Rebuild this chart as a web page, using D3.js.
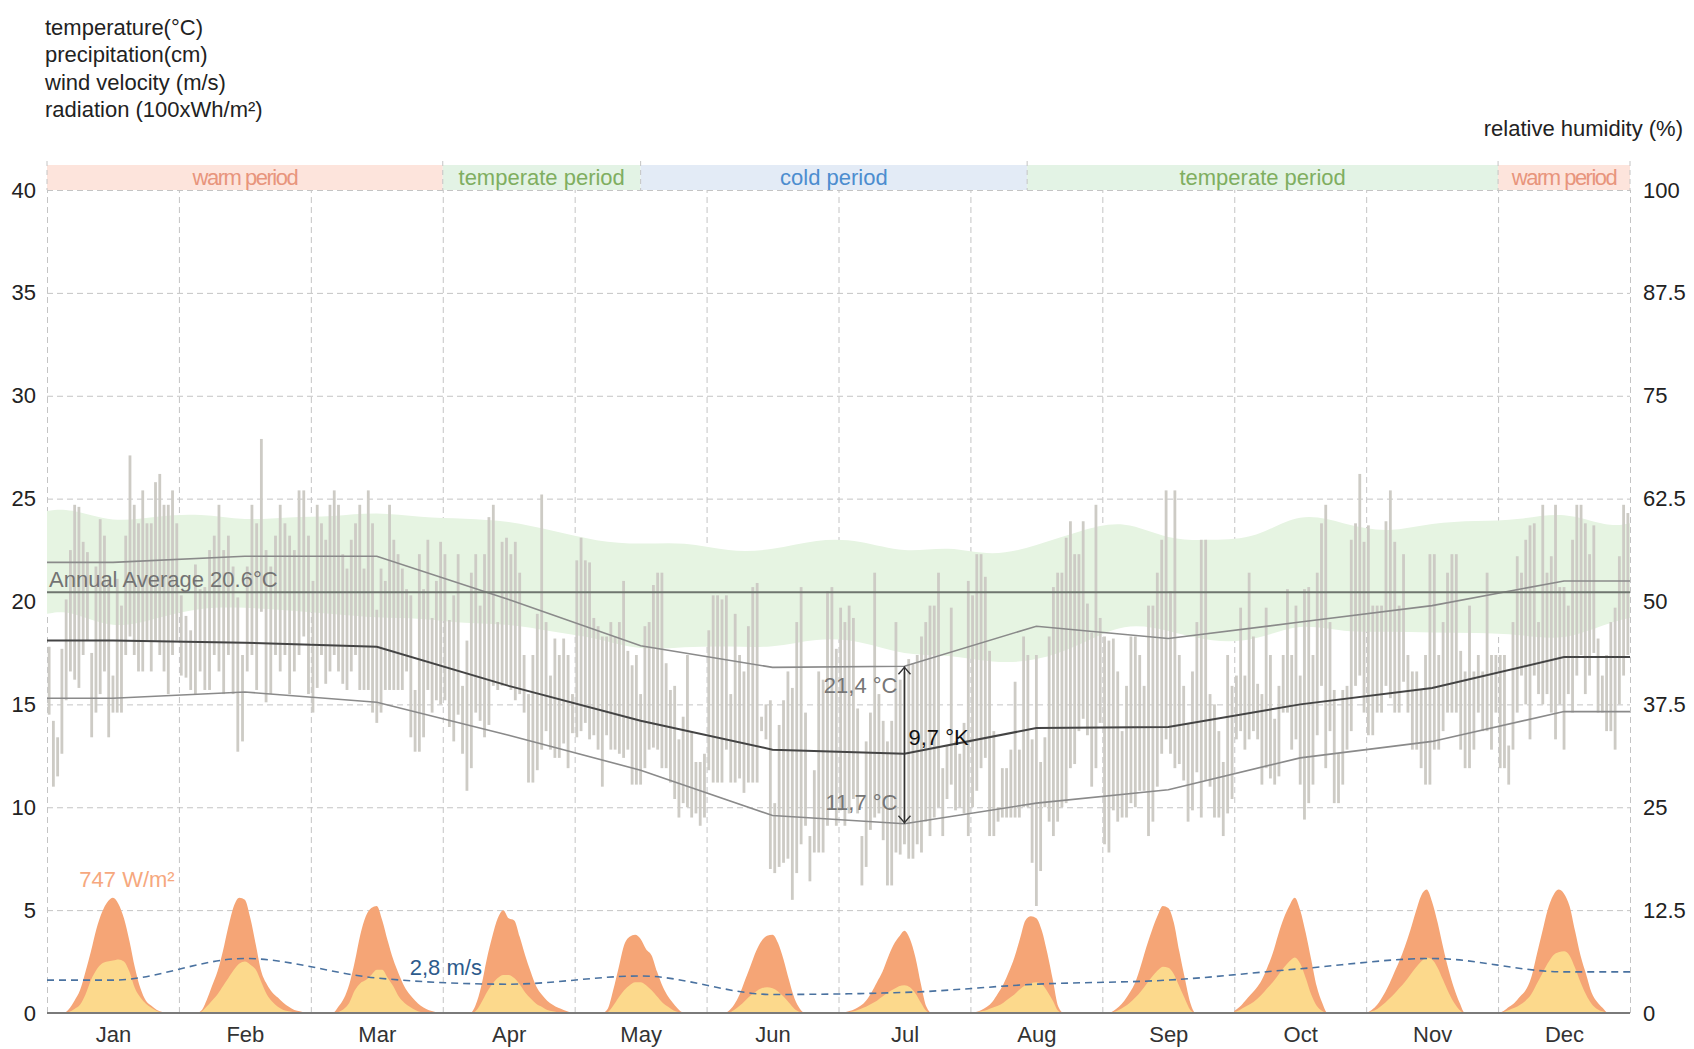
<!DOCTYPE html>
<html lang="en">
<head>
<meta charset="utf-8">
<title>Climate chart</title>
<script src="https://d3js.org/d3.v7.min.js"></script>
<style>
  body { margin: 0; background: #fff; }
  svg { font-family: "Liberation Sans", Arial, sans-serif; }
  .grid line { stroke: #c4c4c4; stroke-dasharray: 6,4; }
  .grid .domain { display: none; }
  .ticks .domain { display: none; }
  .ticks text { font-size: 22px; fill: #222; }
</style>
</head>
<body>
<svg id="chart" width="1694" height="1049"></svg>
<script>
// ---- data ----
const months = ["Jan", "Feb", "Mar", "Apr", "May", "Jun", "Jul", "Aug", "Sep", "Oct", "Nov", "Dec"];
const leftTicks = [0, 5, 10, 15, 20, 25, 30, 35, 40];
const rightTicks = [0, 12.5, 25, 37.5, 50, 62.5, 75, 87.5, 100];

const periodNames = ["warm period", "temperate period", "cold period", "temperate period", "warm period"];
const periodKind = ["warm", "temperate", "cold", "temperate", "warm"];
const periodStart = [0, 3, 4.5, 7.43, 11];
const periodEnd = [3, 4.5, 7.43, 11, 12];

const annualAvg = 20.6;

// monthly means (°C)
const meanMax = [21.9, 22.2, 22.2, 20.1, 17.85, 16.8, 16.85, 18.8, 18.2, 19.0, 19.8, 21.0];
const meanTemp = [18.1, 18.0, 17.8, 15.9, 14.2, 12.8, 12.6, 13.85, 13.9, 15.0, 15.8, 17.3];
const meanMin = [15.3, 15.6, 15.1, 13.5, 11.8, 9.6, 9.2, 10.2, 10.85, 12.4, 13.2, 14.65];

// monthly wind velocity (m/s)
const wind = [1.6, 2.65, 1.7, 1.4, 1.8, 0.9, 1.0, 1.4, 1.6, 2.15, 2.65, 2.0];

// daily max / min temperature (°C), one list per month
const dailyMax = [
  [17.8,14.2,13.4,17.7,20.1,22.5,24.7,24.6,22.9,22.4,17.5,21.7,24.0,23.2,21.1,16.4,21.1,19.8,23.2,27.1,24.7,23.8,25.4,23.8,23.8,25.8,26.2,24.7,24.7,25.4,23.8],
  [20.3,19.3,18.6,21.8,20.6,20.7,22.5,23.2,24.7,22.5,23.2,21.7,20.2,17.4,21.7,24.7,23.8,27.9,22.5,21.7,23.2,24.7,23.8,23.2,22.5,25.4,25.4,23.2],
  [21.0,24.7,23.8,23.0,24.7,25.4,24.7,22.3,21.6,23.0,23.8,24.7,21.6,25.4,23.8,19.6,21.6,21.0,24.7,23.0,22.3,21.6,20.6,20.3,15.7,22.3,20.6,23.0,19.2,21.0,22.9],
  [22.3,19.1,20.3,22.3,15.9,18.1,21.4,22.3,19.8,22.3,24.1,24.7,19.0,22.9,23.1,22.3,22.9,21.4,17.4,15.5,17.4,19.4,25.2,19.0,16.4,18.2,17.4,18.2,17.4,15.5],
  [22.0,23.1,22.0,21.9,19.2,18.8,18.3,18.3,19.0,18.3,19.0,21.0,17.6,16.9,17.4,15.5,18.8,19.0,20.8,21.4,21.4,17.0,15.7,15.9,13.3,14.4,17.4,13.7,12.2,12.2,12.6],
  [18.6,20.3,20.3,20.1,20.3,15.5,19.4,17.4,16.6,18.8,20.7,20.9,14.4,15.0,15.2,10.2,14.0,15.2,16.6,15.8,19.0,20.7,14.6,8.6,11.8,16.6,16.2,20.5,20.7,17.7],
  [19.7,19.0,19.8,19.2,14.8,8.6,13.2,14.6,21.4,15.5,14.2,13.2,14.2,19.0,16.2,16.6,17.2,17.0,17.4,18.3,19.0,19.8,19.8,21.4,11.9,13.0,19.7,13.2,12.6,14.1,21.0],
  [20.3,22.3,22.3,21.2,17.6,13.7,10.0,11.9,11.9,12.8,16.1,12.8,18.3,17.4,13.3,17.4,12.2,13.4,18.3,20.7,21.4,21.4,23.1,23.9,22.3,22.3,23.9,19.9,18.5,24.7,19.2],
  [18.3,18.1,18.2,16.6,13.7,15.9,18.3,18.3,17.4,15.9,19.8,19.8,21.4,23.0,25.4,20.5,25.4,17.4,15.9,14.1,16.6,19.0,23.0,23.0,15.5,15.0,13.7,12.2,17.4,15.9],
  [16.4,19.7,16.4,21.4,18.3,16.0,15.5,19.7,17.4,14.3,15.9,17.4,20.6,17.4,19.8,16.4,20.6,20.7,17.4,21.4,23.8,24.7,19.0,15.7,12.6,15.7,15.9,23.0,23.8,26.2,22.9],
  [23.7,19.8,19.8,19.8,23.9,25.4,22.9,19.8,22.3,17.4,16.6,16.6,15.7,17.4,22.3,22.3,17.4,19.0,21.4,22.3,22.3,17.6,16.6,19.8,16.6,17.4,16.6,21.4,17.4,17.4],
  [17.4,17.4,13.0,19.0,22.2,21.4,23.0,23.7,23.8,19.0,24.7,21.4,22.2,24.7,20.7,20.7,19.8,23.0,24.7,24.7,23.8,22.3,23.7,18.2,16.4,17.4,19.0,19.7,22.2,24.7,24.3]
];
const dailyMin = [
  [14.5,11.0,11.5,12.6,15.2,16.6,16.2,15.8,17.4,18.1,13.4,14.6,15.5,16.6,13.4,14.6,14.6,14.6,17.4,18.3,17.4,16.6,16.6,18.1,16.6,18.1,17.4,16.6,15.5,17.4,18.1],
  [16.4,16.3,15.7,15.5,16.6,15.7,15.7,17.4,16.6,15.5,17.4,15.5,12.7,13.2,16.6,17.4,15.7,19.5,15.1,15.5,17.4,16.6,17.4,15.5,16.6,17.4,18.3,15.5],
  [14.6,15.8,17.4,16.0,16.6,17.4,16.6,16.0,15.7,16.6,17.4,15.7,15.7,15.7,14.6,14.1,14.6,15.7,15.7,15.7,15.7,15.7,16.6,13.4,12.7,12.7,13.4,15.7,14.6,15.2,15.0],
  [15.2,13.9,13.2,14.5,12.6,10.8,11.9,14.6,14.2,13.4,14.0,15.9,15.7,15.9,15.9,15.7,15.2,15.5,14.6,11.2,11.2,11.8,12.8,13.7,12.8,12.4,12.4,13.1,11.9,13.6],
  [13.4,13.7,14.1,13.3,13.5,12.8,11.0,13.5,12.8,12.8,12.6,12.4,12.8,11.1,11.1,11.1,11.9,12.8,12.9,12.8,11.9,11.9,11.2,10.4,9.5,10.2,10.0,9.5,9.7,9.1,9.5],
  [11.8,11.2,11.2,11.2,12.8,11.2,11.2,11.4,10.7,11.2,11.2,11.2,13.7,13.3,7.0,6.8,7.1,7.3,7.5,5.5,6.8,8.2,9.1,6.4,7.8,7.8,7.8,9.1,10.0,9.1],
  [9.85,9.1,9.7,10.4,9.7,6.2,7.1,8.9,9.5,9.7,8.4,6.2,6.2,7.8,7.7,8.2,7.5,7.5,8.2,7.8,9.3,8.6,9.5,10.0,8.6,10.4,11.1,9.85,10.0,9.7,8.6],
  [10.0,10.8,11.9,12.4,8.6,8.6,9.3,9.5,9.5,9.5,9.5,9.5,10.0,10.0,7.3,5.2,6.9,10.0,9.3,8.6,9.3,10.0,10.2,11.9,12.1,13.7,14.3,13.5,11.0,11.9,14.1],
  [8.2,7.8,9.85,9.3,9.5,9.5,10.2,10.0,10.8,10.8,8.6,9.3,11.0,12.6,13.3,12.6,11.9,12.1,11.3,9.3,9.85,11.7,9.5,11.3,11.0,9.5,9.5,8.6,9.7,10.4],
  [13.3,13.7,12.8,13.3,13.7,13.3,11.1,11.9,11.4,11.1,11.5,14.6,14.6,12.8,13.3,11.1,9.4,10.2,11.1,13.5,15.9,11.9,13.7,10.2,10.2,11.1,12.8,13.7,15.9,16.4,14.6],
  [13.5,13.5,14.6,14.6,15.9,15.3,14.6,14.6,16.1,14.6,12.8,12.8,11.9,11.1,11.1,12.8,12.8,13.7,14.6,14.6,14.6,12.8,11.9,11.9,12.8,14.6,13.7,13.7,12.8,14.6],
  [11.9,11.9,11.1,12.8,14.6,16.4,15.0,13.3,16.4,15.5,15.0,15.5,14.6,13.3,15.0,12.8,15.5,14.6,16.4,17.4,15.5,16.4,17.5,14.6,14.6,13.7,13.7,12.8,15.0,16.4,17.4]
];

// relative humidity band (%): year start, three points per month, year end
const humTop = [61.0,
  61.4,59.5,60.4, 60.7,59.8,60.3, 60.3,60.9,60.2, 60.1,59.8,58.6, 57.3,56.9,57.3, 56.0,56.2,57.6,
  57.5,55.8,56.8, 55.4,56.8,58.6, 60.0,57.4,57.5, 57.6,61.0,59.4, 58.3,59.6,59.8, 59.9,61.0,59.0,
  59.5];
const humBottom = [48.5,
  49.0,46.5,48.0, 49.3,49.3,48.9, 48.5,48.0,48.0, 47.3,47.3,46.3, 45.6,44.0,44.5, 44.6,44.3,45.6,
  45.3,43.4,43.6, 42.5,42.7,44.7, 47.5,46.5,45.0, 45.2,47.5,46.2, 46.4,46.2,46.2, 46.0,45.2,47.4,
  48.0];

// average day of radiation per month, hours 0..24 (100 Wh/m²)
const radGlobal = [
  [0,0,0,0,0.2,0.6,1.1,2.0,3.0,4.1,4.9,5.4,5.6,5.3,4.6,3.5,2.2,1.2,0.6,0.35,0.15,0.05,0,0,0],
  [0,0,0,0,0.1,0.6,1.3,2.0,3.0,4.2,5.2,5.6,5.5,4.6,3.3,2.0,1.4,1.0,0.75,0.5,0.3,0.15,0.08,0.02,0],
  [0,0,0,0,0,0.3,0.7,1.4,2.5,3.8,4.7,5.1,5.2,4.5,3.5,2.6,1.9,1.3,0.9,0.6,0.35,0.2,0.1,0.03,0],
  [0,0,0,0,0,0,0.4,1.3,2.6,3.7,4.6,5.0,4.6,4.5,3.7,2.8,2.0,1.3,0.9,0.6,0.4,0.25,0.15,0.05,0],
  [0,0,0,0,0,0,0.2,1.1,2.2,3.3,3.7,3.8,3.6,3.1,2.8,2.0,1.3,0.8,0.45,0.15,0,0,0,0,0],
  [0,0,0,0,0.1,0.4,0.9,1.6,2.3,3.0,3.5,3.75,3.8,3.4,2.6,1.6,0.7,0.2,0,0,0,0,0,0,0],
  [0,0.03,0.1,0.2,0.35,0.6,1.0,1.5,2.0,2.7,3.3,3.7,4.0,3.6,2.7,1.4,0.3,0,0,0,0,0,0,0,0],
  [0,0.05,0.15,0.3,0.55,0.95,1.4,2.0,2.7,3.6,4.5,4.7,4.6,4.0,2.9,1.6,0.3,0,0,0,0,0,0,0,0],
  [0,0,0.1,0.3,0.6,1.0,1.5,2.3,3.2,4.0,4.7,5.2,5.1,4.4,3.0,1.7,0.5,0,0,0,0,0,0,0,0],
  [0.1,0.3,0.6,0.9,1.2,1.6,2.2,2.9,3.8,4.6,5.2,5.6,5.0,3.9,2.6,1.3,0.5,0,0,0,0,0,0,0,0],
  [0,0.15,0.4,0.8,1.3,1.9,2.5,3.2,4.0,4.9,5.7,6.0,5.4,4.4,3.2,2.1,1.2,0.5,0,0,0,0,0,0,0],
  [0,0.1,0.3,0.5,0.8,1.1,1.7,2.8,3.9,5.0,5.7,6.0,5.8,5.2,4.0,2.8,1.9,1.0,0.55,0.25,0,0,0,0,0]
];
const radDiffuse = [
  [0,0,0,0,0.05,0.2,0.4,0.9,1.6,2.1,2.4,2.5,2.55,2.6,2.5,2.0,1.2,0.75,0.45,0.25,0.1,0.03,0,0,0],
  [0,0,0,0,0.05,0.3,0.6,0.9,1.3,1.7,2.1,2.4,2.5,2.35,2.1,1.5,0.9,0.55,0.3,0.15,0.08,0.03,0,0,0],
  [0,0,0,0,0,0.05,0.2,0.5,1.1,1.45,1.6,1.85,2.1,2.1,1.7,1.3,0.8,0.5,0.3,0.15,0.05,0.02,0,0,0],
  [0,0,0,0,0,0,0.1,0.5,1.0,1.4,1.7,1.85,1.85,1.7,1.4,1.0,0.7,0.45,0.3,0.15,0.08,0.03,0,0,0],
  [0,0,0,0,0,0,0.05,0.35,0.75,1.1,1.35,1.5,1.5,1.35,1.1,0.8,0.5,0.3,0.12,0.04,0,0,0,0,0],
  [0,0,0,0,0.02,0.15,0.35,0.6,0.85,1.05,1.2,1.25,1.2,1.05,0.8,0.5,0.2,0.05,0,0,0,0,0,0,0],
  [0,0.02,0.05,0.1,0.2,0.3,0.45,0.6,0.8,1.0,1.15,1.3,1.35,1.25,0.95,0.5,0.1,0,0,0,0,0,0,0,0],
  [0,0.03,0.08,0.15,0.25,0.35,0.5,0.7,0.9,1.15,1.35,1.45,1.5,1.4,1.05,0.6,0.1,0,0,0,0,0,0,0,0],
  [0,0,0.05,0.15,0.3,0.5,0.75,1.05,1.4,1.75,2.05,2.25,2.2,1.9,1.3,0.7,0.15,0,0,0,0,0,0,0,0],
  [0.05,0.15,0.3,0.45,0.65,0.9,1.2,1.5,1.85,2.2,2.5,2.7,2.4,1.7,0.9,0.35,0.1,0,0,0,0,0,0,0,0],
  [0,0.08,0.2,0.4,0.65,0.9,1.2,1.5,1.85,2.2,2.5,2.7,2.6,2.2,1.6,1.0,0.5,0.15,0,0,0,0,0,0,0],
  [0,0.05,0.15,0.25,0.4,0.6,0.9,1.4,1.9,2.4,2.8,2.95,3.0,2.8,2.2,1.5,0.9,0.45,0.2,0.08,0,0,0,0,0]
];

// ---- scales ----
const svg = d3.select("#chart");
const x = d3.scaleLinear().domain([0, 12]).range([47, 1630]);
const y = d3.scaleLinear().domain([0, 40]).range([1013, 190]);
const yHum = d3.scaleLinear().domain([0, 100]).range([1013, 190]);

const bandTop = 165;
const bandColor = { warm: "#fde4dc", temperate: "#e3f3e5", cold: "#e3ebf6" };
const bandText = { warm: "#e8957c", temperate: "#7fae60", cold: "#4c8dcf" };

// period band
const band = svg.append("g");
band.selectAll("rect")
  .data(periodNames)
  .join("rect")
  .attr("x", (d, i) => x(periodStart[i]))
  .attr("width", (d, i) => x(periodEnd[i]) - x(periodStart[i]))
  .attr("y", bandTop)
  .attr("height", y(40) - bandTop)
  .style("fill", (d, i) => bandColor[periodKind[i]]);

band.selectAll("line")
  .data(periodStart.concat([12]))
  .join("line")
  .attr("x1", d => x(d)).attr("x2", d => x(d))
  .attr("y1", bandTop - 4).attr("y2", y(40))
  .style("stroke", "#c4c4c4")
  .style("stroke-dasharray", "5,4");

band.selectAll("text")
  .data(periodNames)
  .join("text")
  .attr("x", (d, i) => (x(periodStart[i]) + x(periodEnd[i])) / 2)
  .attr("y", bandTop + 20)
  .attr("text-anchor", "middle")
  .style("font-size", "22px")
  .style("letter-spacing", (d, i) => periodKind[i] === "warm" ? "-1.5px" : "0px")
  .style("fill", (d, i) => bandText[periodKind[i]])
  .text(d => d);

// grid
svg.append("g")
  .attr("class", "grid")
  .attr("transform", `translate(${x(0)},0)`)
  .call(d3.axisLeft(y).tickValues(leftTicks.filter(d => d > 0)).tickSize(-(x(12) - x(0))).tickFormat(""));

svg.append("g")
  .attr("class", "grid")
  .attr("transform", `translate(0,${y(0)})`)
  .call(d3.axisBottom(x).tickValues(d3.range(0, 13)).tickSize(-(y(0) - y(40))).tickFormat(""));

// humidity band
const humPos = [0].concat(d3.range(36).map(i => (i + 0.5) / 3), [12]);
const humArea = d3.area()
  .x((d, i) => x(humPos[i]))
  .y0((d, i) => yHum(humBottom[i]))
  .y1(d => yHum(d))
  .curve(d3.curveBasis);

svg.append("path")
  .attr("d", humArea(humTop))
  .style("fill", "#e6f4e2");

// daily temperature bars
const bars = [];
dailyMax.forEach((list, m) => {
  list.forEach((v, k) => {
    bars.push({ pos: m + (k + 0.5) / list.length, hi: v, lo: dailyMin[m][k] });
  });
});

svg.append("g")
  .selectAll("rect")
  .data(bars)
  .join("rect")
  .attr("x", d => x(d.pos) - 1.4)
  .attr("width", 2.8)
  .attr("y", d => y(d.hi))
  .attr("height", d => y(d.lo) - y(d.hi))
  .style("fill", "#cdcbc5");

// radiation profiles
const radArea = (m) => d3.area()
  .x((d, h) => x(m + h / 24))
  .y0(y(0))
  .y1(d => y(d))
  .curve(d3.curveMonotoneX);

const rad = svg.append("g");
radGlobal.forEach((list, m) => {
  rad.append("path").attr("d", radArea(m)(list)).style("fill", "#f5a576");
  rad.append("path").attr("d", radArea(m)(radDiffuse[m])).style("fill", "#fcd98c");
});

// wind
const windPts = [[0, wind[0]]].concat(wind.map((d, i) => [i + 0.5, d]), [[12, wind[11]]]);
svg.append("path")
  .attr("d", d3.line().x(d => x(d[0])).y(d => y(d[1])).curve(d3.curveMonotoneX)(windPts))
  .style("fill", "none")
  .style("stroke", "#4a72a0")
  .style("stroke-width", 1.6)
  .style("stroke-dasharray", "7,5");

// baseline
svg.append("line")
  .attr("x1", x(0)).attr("x2", x(12))
  .attr("y1", y(0)).attr("y2", y(0))
  .style("stroke", "#7a7a7a")
  .style("stroke-width", 2);

// monthly lines
const monthLine = (vals) => d3.line()
  .x(d => x(d[0]))
  .y(d => y(d[1]))([[0, vals[0]]].concat(vals.map((d, i) => [i + 0.5, d]), [[12, vals[11]]]));

svg.append("path").attr("d", monthLine(meanMax))
  .style("fill", "none").style("stroke", "#8a8a8a").style("stroke-width", 1.6);
svg.append("path").attr("d", monthLine(meanMin))
  .style("fill", "none").style("stroke", "#8a8a8a").style("stroke-width", 1.6);
svg.append("path").attr("d", monthLine(meanTemp))
  .style("fill", "none").style("stroke", "#444").style("stroke-width", 2);

// annual average
svg.append("line")
  .attr("x1", x(0)).attr("x2", x(12))
  .attr("y1", y(annualAvg) + 3).attr("y2", y(annualAvg) + 3)
  .style("stroke", "#6f766f")
  .style("stroke-width", 2);

svg.append("text")
  .attr("x", x(0) + 2)
  .attr("y", y(annualAvg) - 2)
  .style("font-size", "22px")
  .style("fill", "#737373")
  .text("Annual Average 20.6°C");

// amplitude annotation at July
const ax = x(6.5);
const aTop = y(meanMax[6]);
const aBot = y(meanMin[6]);
const ann = svg.append("g").style("stroke", "#333").style("stroke-width", 1.4).style("fill", "none");
ann.append("line").attr("x1", ax).attr("x2", ax).attr("y1", aTop).attr("y2", aBot);
ann.append("path").attr("d", `M${ax - 6},${aTop + 8}L${ax},${aTop + 1}L${ax + 6},${aTop + 8}`);
ann.append("path").attr("d", `M${ax - 6},${aBot - 8}L${ax},${aBot - 1}L${ax + 6},${aBot - 8}`);

svg.append("text").attr("x", ax - 7).attr("y", aTop + 27)
  .attr("text-anchor", "end").style("font-size", "22px").style("fill", "#767676").text("21,4 °C");
svg.append("text").attr("x", ax - 7).attr("y", aBot - 14)
  .attr("text-anchor", "end").style("font-size", "22px").style("fill", "#767676").text("11,7 °C");
svg.append("text").attr("x", ax + 4).attr("y", y(meanTemp[6]) - 9)
  .style("font-size", "22px").style("fill", "#111").text("9,7 °K");

// series labels
svg.append("text").attr("x", x(0.245)).attr("y", y(6.1))
  .style("font-size", "22px").style("fill", "#f6a87e").text("747 W/m²");
svg.append("text").attr("x", x(2.75)).attr("y", y(1.85))
  .style("font-size", "22px").style("fill", "#2d5b8c").text("2,8 m/s");

// axes
svg.append("g")
  .attr("class", "ticks")
  .attr("transform", `translate(${x(0)},0)`)
  .call(d3.axisLeft(y).tickValues(leftTicks).tickSize(0).tickPadding(11));

svg.append("g")
  .attr("class", "ticks")
  .attr("transform", `translate(${x(12)},0)`)
  .call(d3.axisRight(yHum).tickValues(rightTicks).tickSize(0).tickPadding(13).tickFormat(d => String(d)));

svg.append("g")
  .attr("class", "ticks")
  .attr("transform", `translate(0,${y(0)})`)
  .call(d3.axisBottom(x).tickValues(months.map((d, i) => i + 0.5)).tickSize(0).tickPadding(13)
    .tickFormat((d, i) => months[i]))
  .selectAll("text").style("fill", "#333");

// titles
const titles = ["temperature(°C)", "precipitation(cm)", "wind velocity (m/s)", "radiation (100xWh/m²)"];
svg.append("g")
  .selectAll("text")
  .data(titles)
  .join("text")
  .attr("x", 45)
  .attr("y", (d, i) => 35 + i * 27.3)
  .style("font-size", "22px")
  .style("fill", "#222")
  .text(d => d);

svg.append("text")
  .attr("x", 1683).attr("y", 136)
  .attr("text-anchor", "end")
  .style("font-size", "22px")
  .style("fill", "#222")
  .text("relative humidity (%)");
</script>
</body>
</html>
